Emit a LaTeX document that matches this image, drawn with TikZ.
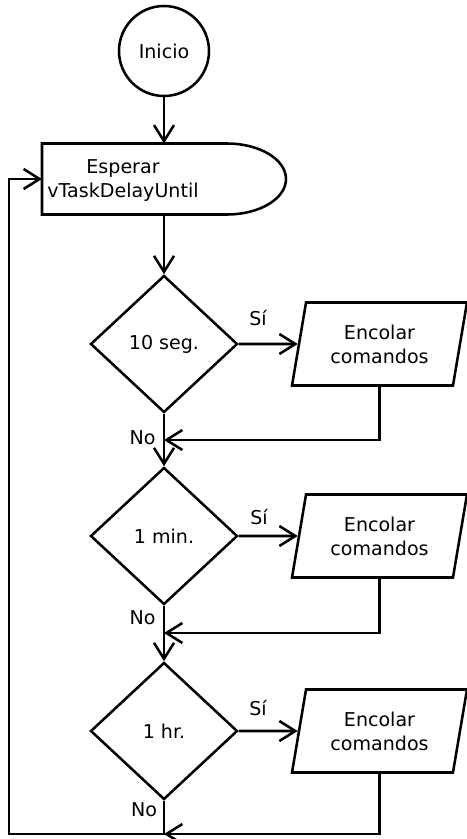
\documentclass[tikz,border=0pt]{standalone}
\usepackage{fontspec}
\setmainfont{DejaVu Sans}
\usetikzlibrary{shapes.geometric,arrows.meta,positioning}

\tikzset{every picture/.style={line width=1.9pt}}
\tikzset{
  txt/.style={inner sep=0.75pt, font=\fontsize{14.3}{18}\selectfont, align=center},
  startnode/.style={circle, draw, minimum size=67.5pt, txt},
  decision/.style={diamond, draw, minimum width=110.25pt, minimum height=102.75pt, txt},
  queuebox/.style={trapezium, trapezium left angle=71, trapezium right angle=109,
    trapezium stretches body, draw, minimum width=131.25pt, minimum height=62.25pt, txt},
  flow/.style={-{Straight Barb[length=12pt,width=15pt]}},
}

\begin{document}
\begin{tikzpicture}[x=0.75pt,y=0.75pt,yscale=-1,xscale=1]
\useasboundingbox (0,0) rectangle (467,839);

% Start
\node[startnode] (inicio) at (164,51) {Inicio};

% Delay
\node[minimum width=183pt, minimum height=53.25pt, outer sep=0pt] (delay) at (164,179) {};
\draw (delay.north west) -- (227,143.5) .. controls (259.6,143.5) and (286,159.4) .. (286,179)
  .. controls (286,198.6) and (259.6,214.5) .. (227,214.5) -- (delay.south west) -- cycle;
\node[txt] (delaytext) at (123,181) {Esperar\\vTaskDelayUntil};

% Decisions
\node[decision] (d1) at (164,344) {10 seg.};
\node[decision] (d2) at (164,536) {1 min.};
\node[decision] (d3) at (164,731) {1 hr.};

% Queue commands
\node[queuebox] (p1) at (379.5,344) {Encolar\\comandos};
\node[queuebox] (p2) at (379.5,536) {Encolar\\comandos};
\node[queuebox] (p3) at (379.5,731) {Encolar\\comandos};

% Labels
\node[txt] (si1) at (258,318) {Sí};
\node[txt] (si2) at (259,517) {Sí};
\node[txt] (si3) at (258,708) {Sí};
\node[txt] (no1) at (142.5,437.5) {No};
\node[txt] (no2) at (142.5,618) {No};
\node[txt] (no3) at (144,810) {No};

% Joins
\coordinate (m1) at (164,440);
\coordinate (m2) at (164,633);
\coordinate (m3) at (164,834);
\coordinate (c1) at (9,834);
\coordinate (c2) at (9,179);

% Straight Lines
\draw[flow] (inicio) -- (delay);
\draw[flow] (delay) -- (d1);
\draw[flow] (d1) -- (p1);
\draw[flow] (p1.south) |- (m1);
\draw[flow] (d1) -- (d2);
\draw[flow] (d2) -- (p2);
\draw[flow] (p2.south) |- (m2);
\draw[flow] (d2) -- (d3);
\draw[flow] (d3) -- (p3);
\draw[flow] (p3.south) |- (m3);
\draw[flow] (d3) -- (m3) -- (c1) -- (c2) -- (delay.west);

\end{tikzpicture}
\end{document}
